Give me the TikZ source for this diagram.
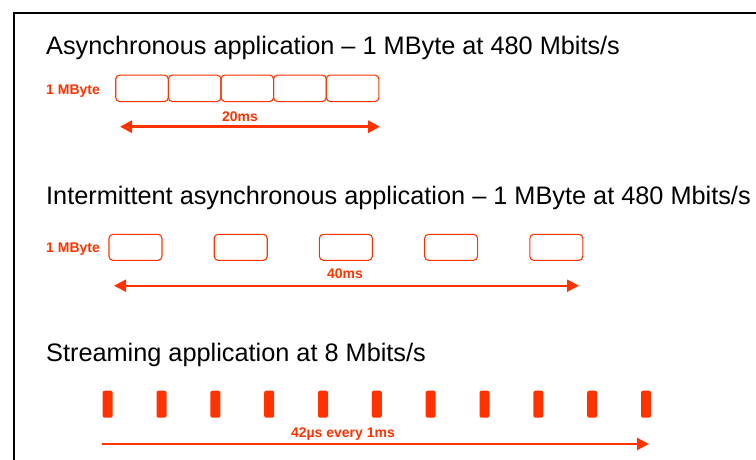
\documentclass[tikz,border=0pt]{standalone}
\usepackage{fontspec}
\setmainfont{Liberation Sans}
\usetikzlibrary{arrows.meta}
\definecolor{ured}{HTML}{FF3300}
\tikzset{
  title/.style={anchor=base west, inner sep=0pt, font=\fontsize{25.3}{30}\selectfont, text=black},
  redlabel/.style={inner sep=0pt, font=\fontsize{14}{16}\selectfont\bfseries, text=ured},
  databox/.style={draw=ured, line width=1.1pt, rounded corners=4pt, minimum width=52.6pt, minimum height=26.5pt, inner sep=0pt},
  gapbox/.style={draw=ured, line width=1.1pt, rounded corners=4pt, minimum width=53pt, minimum height=26pt, inner sep=0pt},
  bar/.style={fill=ured, rounded corners=2pt, minimum width=10pt, minimum height=27pt, inner sep=0pt},
  span/.style={draw=ured, line width=#1, -{Triangle[length=12pt,width=12pt]}},
  span/.default=2.2pt,
  frame/.style={draw=black, line width=2.5pt}
}
\begin{document}
\begin{tikzpicture}[x=1pt,y=-1pt]
\useasboundingbox (0,0) rectangle (756,459);
% frame
\coordinate (fr) at (757,13);
\coordinate (fc) at (14,13);
\coordinate (fb) at (14,460);
\draw[frame] (fr) -- (fc) -- (fb);

% section 1
\node[title] (t1) at (46,54) {Asynchronous application -- 1 MByte at 480 Mbits/s};
\node[redlabel, anchor=base west] (l1) at (46,94) {1 MByte};
\foreach \i in {0,...,4}{
  \node[databox] (a\i) at ({142.0+52.65*\i},88.3) {};
}
\coordinate (a1l) at (120,126.7);
\coordinate (a1r) at (380,126.7);
\draw[span=3pt, {Triangle[length=12pt,width=12pt]}-{Triangle[length=12pt,width=12pt]}] (a1l) -- (a1r);
\node[redlabel, anchor=base] (d1) at (240,121) {20ms};

% section 2
\node[title] (t2) at (46,204.5) {Intermittent asynchronous application -- 1 MByte at 480 Mbits/s};
\node[redlabel, anchor=base west] (l2) at (46,252) {1 MByte};
\foreach \i in {0,...,4}{
  \node[gapbox] (b\i) at ({135.5+105.2*\i},247.3) {};
}
\coordinate (a2l) at (114,285.7);
\coordinate (a2r) at (579,285.7);
\draw[span=2.2pt, {Triangle[length=12pt,width=12pt]}-{Triangle[length=12pt,width=12pt]}] (a2l) -- (a2r);
\node[redlabel, anchor=base] (d2) at (345,278) {40ms};

% section 3
\node[title] (t3) at (46,361.5) {Streaming application at 8 Mbits/s};
\foreach \i in {0,...,10}{
  \node[bar] (c\i) at ({107.7+53.83*\i},404.2) {};
}
\coordinate (a3l) at (101.7,444);
\coordinate (a3r) at (649,444);
\draw[span=2.3pt] (a3l) -- (a3r);
\node[redlabel, anchor=base] (d3) at (343,437) {42µs every 1ms};
\end{tikzpicture}
\end{document}
